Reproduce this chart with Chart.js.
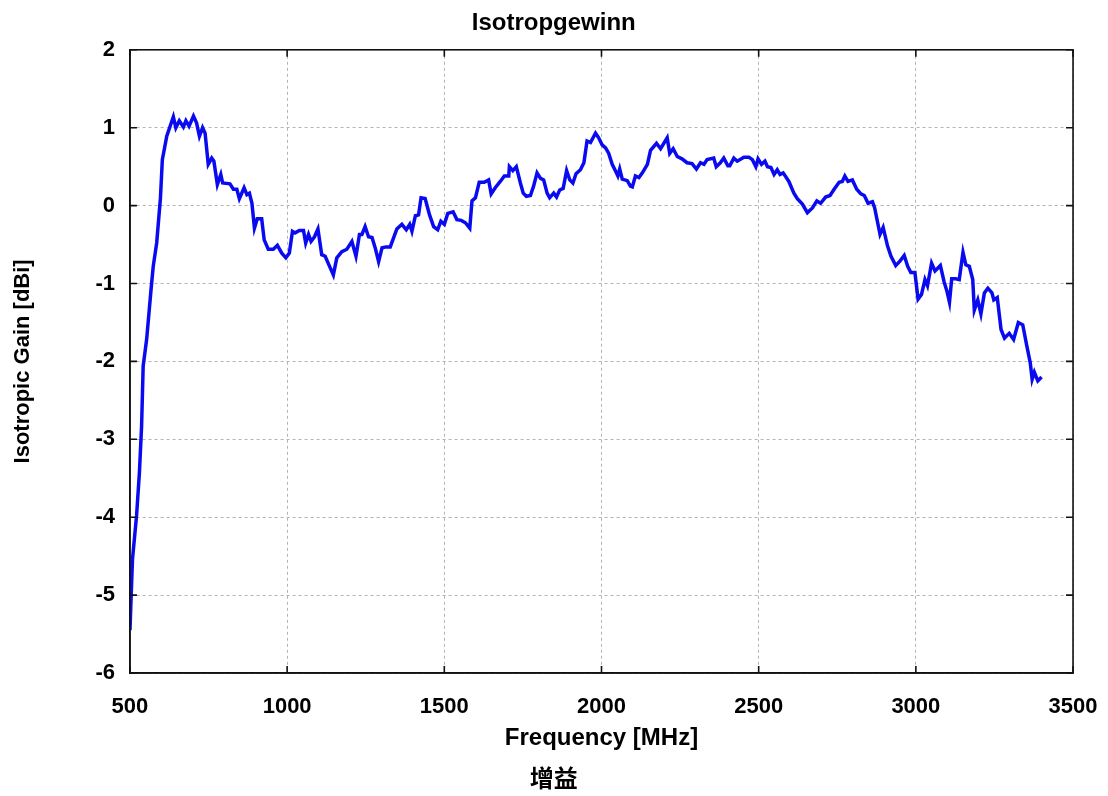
<!DOCTYPE html>
<html>
<head>
<meta charset="utf-8">
<script src="https://cdn.jsdelivr.net/npm/chart.js@4/dist/chart.umd.min.js"></script>
<style>
html,body{margin:0;padding:0;background:#fff;}
#wrap{width:1108px;height:796px;}
</style>
</head>
<body>
<div id="wrap"><canvas id="c" width="1108" height="796"></canvas></div>
<script>
const chartTitle = "Isotropgewinn";
const chartSubtitle = "增益";
const xTitle = "Frequency [MHz]";
const yTitle = "Isotropic Gain [dBi]";

const frequencies = [500,508,521,530,537,542,553,567,574,585,597,603,617,638,646,657,670,678,688,702,712,721,731,739,749,760,767,778,789,795,818,829,840,848,863,872,880,888,896,905,919,927,940,956,969,983,996,1007,1017,1025,1039,1052,1059,1068,1076,1087,1098,1110,1121,1135,1147,1158,1174,1190,1206,1219,1230,1238,1248,1259,1270,1280,1291,1302,1315,1328,1349,1365,1379,1390,1397,1408,1418,1426,1439,1453,1466,1479,1489,1500,1511,1528,1540,1554,1567,1581,1588,1599,1611,1627,1641,1649,1662,1678,1691,1705,1707,1718,1729,1742,1751,1761,1774,1784,1795,1806,1816,1827,1835,1848,1857,1867,1878,1889,1899,1909,1919,1933,1944,1954,1965,1981,1991,2002,2013,2023,2034,2045,2052,2058,2066,2082,2092,2098,2108,2119,2130,2146,2156,2175,2188,2209,2217,2228,2241,2256,2272,2288,2302,2315,2326,2336,2357,2365,2378,2389,2402,2408,2421,2432,2453,2469,2480,2491,2498,2509,2520,2528,2539,2549,2559,2568,2578,2596,2612,2623,2639,2655,2671,2685,2697,2713,2727,2740,2756,2766,2774,2784,2798,2812,2825,2836,2848,2862,2869,2886,2896,2910,2921,2936,2950,2963,2974,2984,2997,3007,3018,3029,3037,3050,3061,3078,3090,3099,3107,3114,3127,3138,3150,3159,3170,3181,3186,3197,3207,3218,3229,3242,3248,3259,3271,3282,3297,3311,3326,3340,3353,3364,3370,3377,3388,3400];

const gains = [-5.45,-4.54,-3.98,-3.43,-2.83,-2.06,-1.72,-1.08,-0.78,-0.48,0.10,0.59,0.89,1.14,1.00,1.09,1.01,1.09,1.02,1.15,1.06,0.89,1.00,0.93,0.53,0.61,0.57,0.27,0.40,0.29,0.28,0.21,0.21,0.09,0.23,0.14,0.16,0.03,-0.29,-0.17,-0.17,-0.44,-0.56,-0.56,-0.51,-0.61,-0.67,-0.61,-0.33,-0.35,-0.32,-0.32,-0.48,-0.37,-0.46,-0.40,-0.30,-0.63,-0.65,-0.78,-0.89,-0.67,-0.59,-0.56,-0.46,-0.65,-0.37,-0.37,-0.27,-0.40,-0.41,-0.54,-0.72,-0.54,-0.53,-0.53,-0.30,-0.24,-0.31,-0.24,-0.33,-0.13,-0.12,0.10,0.09,-0.12,-0.27,-0.31,-0.20,-0.24,-0.10,-0.08,-0.18,-0.19,-0.22,-0.29,0.06,0.10,0.30,0.30,0.33,0.15,0.23,0.31,0.38,0.38,0.50,0.45,0.50,0.29,0.16,0.12,0.13,0.25,0.42,0.35,0.33,0.16,0.10,0.16,0.11,0.20,0.22,0.45,0.33,0.29,0.41,0.46,0.55,0.83,0.81,0.93,0.87,0.78,0.74,0.67,0.53,0.44,0.38,0.47,0.34,0.32,0.25,0.24,0.38,0.36,0.42,0.53,0.71,0.80,0.73,0.87,0.67,0.73,0.63,0.60,0.55,0.54,0.47,0.55,0.53,0.59,0.61,0.50,0.55,0.61,0.51,0.51,0.61,0.57,0.62,0.62,0.59,0.50,0.60,0.53,0.57,0.50,0.49,0.40,0.46,0.40,0.42,0.31,0.16,0.09,0.02,-0.09,-0.03,0.06,0.03,0.11,0.13,0.21,0.30,0.31,0.38,0.31,0.33,0.21,0.15,0.13,0.03,0.05,-0.03,-0.37,-0.28,-0.52,-0.65,-0.77,-0.71,-0.64,-0.78,-0.86,-0.86,-1.20,-1.14,-0.95,-1.03,-0.74,-0.84,-0.77,-0.98,-1.10,-1.24,-0.94,-0.94,-0.95,-0.60,-0.76,-0.78,-0.95,-1.34,-1.21,-1.39,-1.12,-1.06,-1.12,-1.21,-1.18,-1.59,-1.70,-1.64,-1.72,-1.50,-1.53,-1.80,-2.02,-2.23,-2.14,-2.25,-2.20];

const xMin = 500, xMax = 3500, xStep = 500;
const yMin = -6, yMax = 2, yStep = 1;

const FONT = "'Liberation Sans', Arial, 'Noto Sans CJK SC', sans-serif";

const points = frequencies.map((f, i) => ({x: f, y: gains[i]}));

const framePlugin = {
  id: 'frame',
  afterDatasetsDraw(chart) {
    const {ctx, chartArea: a, scales: {x, y}} = chart;
    ctx.save();
    ctx.strokeStyle = '#111';
    ctx.lineWidth = 1.6;
    ctx.strokeRect(a.left, a.top, a.right - a.left, a.bottom - a.top);
    ctx.beginPath();
    const L = 7;
    x.ticks.forEach(t => {
      const px = x.getPixelForValue(t.value);
      ctx.moveTo(px, a.bottom); ctx.lineTo(px, a.bottom - L);
      ctx.moveTo(px, a.top); ctx.lineTo(px, a.top + L);
    });
    y.ticks.forEach(t => {
      const py = y.getPixelForValue(t.value);
      ctx.moveTo(a.left, py); ctx.lineTo(a.left + L, py);
      ctx.moveTo(a.right, py); ctx.lineTo(a.right - L, py);
    });
    ctx.stroke();
    ctx.restore();
  }
};

new Chart(document.getElementById('c'), {
  type: 'line',
  data: {
    datasets: [{
      data: points,
      borderColor: '#0a0af0',
      borderWidth: 3.5,
      pointRadius: 0,
      tension: 0,
      fill: false
    }]
  },
  options: {
    responsive: false,
    animation: false,
    layout: {padding: {left: 10, right: 10.5, top: 9, bottom: 1}},
    plugins: {
      legend: {display: false},
      tooltip: {enabled: false},
      title: {
        display: true, text: chartTitle, color: '#000',
        font: {family: FONT, size: 24, weight: 'bold'},
        padding: {top: 0, bottom: 12}
      },
      subtitle: {
        display: true, text: chartSubtitle, position: 'bottom', color: '#000',
        font: {family: FONT, size: 24, weight: 'bold'},
        padding: {top: 13.8, bottom: 0}
      }
    },
    scales: {
      x: {
        type: 'linear', min: xMin, max: xMax,
        ticks: {stepSize: xStep, color: '#000', padding: 10.5, maxRotation: 0,
          callback: v => String(v),
          font: {family: FONT, size: 22, weight: 'bold', lineHeight: 2.109}},
        grid: {color: '#b4b4b4', lineWidth: 1, drawTicks: false},
        border: {display: true, color: '#111', width: 1.6, dash: [3, 3]},
        title: {display: true, text: xTitle, color: '#000',
          font: {family: FONT, size: 24, weight: 'bold'}, padding: {top: -16.8, bottom: 0}}
      },
      y: {
        type: 'linear', min: yMin, max: yMax,
        ticks: {stepSize: yStep, color: '#000', padding: 15,
          callback: v => String(v),
          font: {family: FONT, size: 22, weight: 'bold'}},
        grid: {color: '#b4b4b4', lineWidth: 1, drawTicks: false},
        border: {display: true, color: '#111', width: 1.6, dash: [3, 3]},
        title: {display: true, text: yTitle, color: '#000',
          font: {family: FONT, size: 22, weight: 'bold'}, padding: {top: 0, bottom: 44}}
      }
    }
  },
  plugins: [framePlugin]
});
</script>
</body>
</html>
